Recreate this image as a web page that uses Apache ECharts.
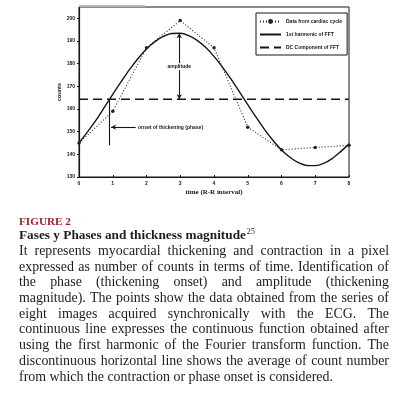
<!DOCTYPE html>
<html>
<head>
<meta charset="utf-8">
<script src="https://cdn.jsdelivr.net/npm/echarts@6/dist/echarts.min.js"></script>
<style>
  html, body { margin: 0; padding: 0; background: #fff; }
  #chart { width: 410px; height: 398px; }
</style>
</head>
<body>
<div id="chart"></div>
<script>
// cardiac cycle samples (R-R interval 0..8)
var cycleX = [0, 1, 2, 3, 4, 5, 6, 7, 8];
var cycleCounts = [145, 159, 187, 199, 187, 152, 142, 143, 144];

// 1st harmonic curve, read every quarter interval
var harmX = [0, 0.25, 0.5, 0.75, 1, 1.25, 1.5, 1.75, 2, 2.25, 2.5, 2.75, 3, 3.25, 3.5, 3.75,
             4, 4.25, 4.5, 4.75, 5, 5.25, 5.5, 5.75, 6, 6.25, 6.5, 6.75, 7, 7.25, 7.5, 7.75, 8];
var harmCounts = [145, 149.9, 155, 160.7, 166.5, 172.1, 177.5, 182.3, 186.5, 189.7, 192, 193.3, 193.4, 192.4, 190.3, 187.2,
                  183.2, 178.5, 173.3, 167.7, 161.9, 156.3, 150.9, 146.1, 141.9, 138.7, 136.3, 135.1, 135, 136, 138.1, 141.2, 144.5];

// DC component
var dcLevel = 164.3;

// annotations
var amplitudeX = 2.97;
var amplitudeTop = 193.4;
var onsetX = 0.91;
var onsetBottom = 144;
var phaseArrow = [1.68, 0.95, 152];

var xTicks = [0, 1, 2, 3, 4, 5, 6, 7, 8];

var captionTitle = 'FIGURE 2';
var captionHead = 'Fases y Phases and thickness magnitude';
var captionSup = '25';
var captionLines = [
  'It represents myocardial thickening and contraction in a pixel',
  'expressed as number of counts in terms of time. Identification of',
  'the phase (thickening onset) and amplitude (thickening',
  'magnitude). The points show the data obtained from the series of',
  'eight images acquired synchronically with the ECG. The',
  'continuous line expresses the continuous function obtained after',
  'using the first harmonic of the Fourier transform function. The',
  'discontinuous horizontal line shows the average of count number',
  'from which the contraction or phase onset is considered.'
];

var ink = '#161616';
var serif = '"Liberation Serif", "DejaVu Serif", serif';

function zip(xs, ys) {
  return xs.map(function (x, i) { return [x, ys[i]]; });
}

// caption sizes fitted to the printed widths
var ctx = document.createElement('canvas').getContext('2d');
var textLeft = 19, textRight = 389;
ctx.font = '12px ' + serif;
var lastW = ctx.measureText(captionLines[captionLines.length - 1]).width;
var widest = Math.max.apply(null, captionLines.map(function (l) { return ctx.measureText(l).width; }));
var bodySize = Math.min(12 * 314 / lastW, 12 * 368 / widest);
var bodyFont = bodySize.toFixed(2) + 'px ' + serif;
ctx.font = 'bold 12px ' + serif;
var headSize = 12 * 227 / ctx.measureText(captionHead).width;
var headFont = 'bold ' + headSize.toFixed(2) + 'px ' + serif;
var titleSize = 12 * 52 / ctx.measureText(captionTitle).width;

ctx.font = bodyFont;
var graphics = [];
captionLines.forEach(function (line, i) {
  var y = 252.4 + i * 15.7;
  var words = line.split(' ');
  var last = i === captionLines.length - 1;
  var widths = words.map(function (w) { return ctx.measureText(w).width; });
  var total = widths.reduce(function (a, b) { return a + b; }, 0);
  var gap = last ? ctx.measureText(' ').width : (textRight - textLeft - total) / (words.length - 1);
  var x = textLeft;
  words.forEach(function (w, j) {
    graphics.push({
      type: 'text', left: x, top: y - bodySize * 0.58,
      style: { text: w, font: bodyFont, fill: '#1c1c1c' }
    });
    x += widths[j] + gap;
  });
});
ctx.font = headFont;
var headW = ctx.measureText(captionHead).width;
graphics.push(
  { type: 'text', left: 19, top: 216.5, style: { text: captionTitle, font: 'bold ' + titleSize.toFixed(2) + 'px ' + serif, fill: '#a3212b' } },
  { type: 'text', left: 19, top: 229.5, style: { text: captionHead, font: headFont, fill: '#1c1c1c' } },
  { type: 'text', left: 19 + headW + 0.5, top: 227.5, style: { text: captionSup, font: '8.5px ' + serif, fill: '#1c1c1c' } },
  { type: 'rect', shape: { x: 79, y: 5, width: 66, height: 2 }, style: { fill: '#b5b5b5' }, z: 10 }
);

var noDot = { color: 'rgba(0,0,0,0)', borderWidth: 0 };

var chart = echarts.init(document.getElementById('chart'));
chart.setOption({
  animation: false,
  backgroundColor: '#fff',
  grid: {
    left: 79, top: 7, width: 270, height: 170,
    show: true, borderColor: ink, borderWidth: 1
  },
  legend: {
    data: [
      { name: 'Data from cardiac cycle' },
      { name: '1st harmonic of FFT', itemStyle: noDot },
      { name: 'DC Component of FFT', itemStyle: noDot }
    ],
    orient: 'vertical',
    left: 256, top: 13,
    padding: [6, 5, 5, 3],
    itemWidth: 21, itemHeight: 6, itemGap: 8,
    borderColor: ink, borderWidth: 1,
    backgroundColor: '#fff',
    textStyle: { fontSize: 5, fontWeight: 'bold', color: ink, fontFamily: 'Arial, "Liberation Sans"' }
  },
  xAxis: {
    type: 'value', min: 0, max: 8, interval: 1,
    name: 'time (R-R interval)', nameLocation: 'middle', nameGap: 12, nameMoveOverlap: false,
    nameTextStyle: { fontSize: 7, fontWeight: 'bold', fontFamily: serif, color: ink },
    axisLine: { lineStyle: { color: ink, width: 1.2 } },
    axisTick: { inside: true, length: 2, lineStyle: { color: ink } },
    axisLabel: {
      fontSize: 5, fontWeight: 'bold', color: ink, margin: 4,
      formatter: function (v) { return xTicks.indexOf(v) >= 0 ? String(v) : ''; }
    },
    splitLine: { show: false }
  },
  yAxis: {
    type: 'value', min: 130, max: 205, interval: 10,
    name: 'counts', nameLocation: 'middle', nameGap: 17, nameRotate: 90, nameMoveOverlap: false,
    nameTextStyle: { fontSize: 5.5, fontWeight: 'bold', color: ink },
    axisLine: { show: true, lineStyle: { color: ink, width: 1.2 } },
    axisTick: { show: true, length: 2, lineStyle: { color: ink } },
    axisLabel: { fontSize: 5, fontWeight: 'bold', color: ink, margin: 4, showMaxLabel: false },
    splitLine: { show: false }
  },
  graphic: graphics,
  series: [
    {
      name: 'Data from cardiac cycle', type: 'line',
      data: zip(cycleX, cycleCounts),
      symbol: 'circle', symbolSize: 3.5,
      itemStyle: { color: '#222' },
      lineStyle: { color: '#222', width: 1.1, type: [1, 2] },
      z: 3
    },
    {
      name: '1st harmonic of FFT', type: 'line',
      data: zip(harmX, harmCounts),
      smooth: 0.3, symbol: 'none',
      itemStyle: { color: ink },
      lineStyle: { color: ink, width: 1.4 }
    },
    {
      name: 'DC Component of FFT', type: 'line',
      data: [[0, dcLevel], [8, dcLevel]],
      symbol: 'none',
      itemStyle: { color: ink },
      lineStyle: { color: ink, width: 1.6, type: [9, 5] }
    },
    {
      name: 'notes', type: 'line', data: [],
      markLine: {
        silent: true, animation: false,
        lineStyle: { color: ink, width: 1.1, type: 'solid' },
        label: { show: false },
        data: [
          [
            { coord: [amplitudeX, amplitudeTop], symbol: 'arrow', symbolSize: [4, 5] },
            { coord: [amplitudeX, dcLevel], symbol: 'arrow', symbolSize: [4, 5] }
          ],
          [
            { coord: [onsetX, dcLevel], symbol: 'none' },
            { coord: [onsetX, onsetBottom], symbol: 'none' }
          ],
          [
            { coord: [phaseArrow[0], phaseArrow[2]], symbol: 'none' },
            { coord: [phaseArrow[1], phaseArrow[2]], symbol: 'arrow', symbolSize: [4, 5] }
          ]
        ]
      },
      markPoint: {
        silent: true, symbol: 'circle', symbolSize: 0,
        data: [
          {
            coord: [amplitudeX, 178.7],
            label: { show: true, formatter: 'amplitude', fontSize: 5, fontWeight: 'bold', color: ink, backgroundColor: '#fff', padding: [1, 1] }
          },
          {
            coord: [1.75, phaseArrow[2]],
            label: { show: true, position: 'right', distance: 0, formatter: 'onset of thickening (phase)', fontSize: 5, fontWeight: 'bold', color: ink }
          }
        ]
      }
    }
  ]
});
</script>
</body>
</html>
